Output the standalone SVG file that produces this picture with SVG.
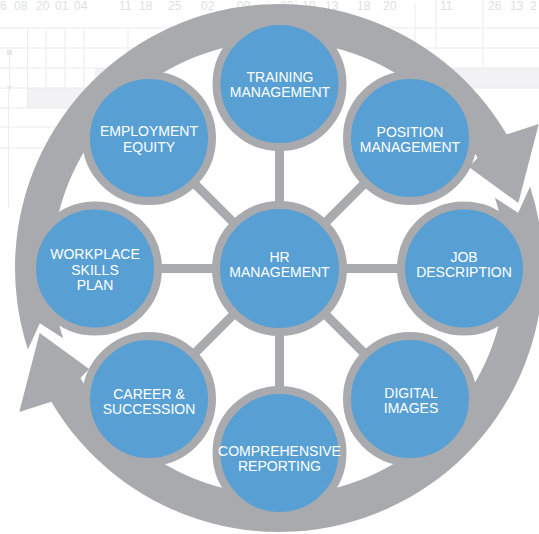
<svg xmlns="http://www.w3.org/2000/svg" width="539" height="534" viewBox="0 0 539 534">
<style>
.grid line{stroke:#ECECEE;stroke-width:1}
.band{fill:#F2F2F4}
.num{font-family:"Liberation Sans",Arial,sans-serif;font-size:12px;fill:#DEDFE1}
.arc{fill:#A9AAAD}
.spoke{stroke:#A9AAAD;stroke-width:9}
.node circle{fill:#589FD4;stroke:#A9AAAD;stroke-width:8}
.node text{font-family:"Liberation Sans",Arial,sans-serif;font-size:14px;fill:#FFFFFF;text-anchor:middle}
</style>
<defs>
<path id="seg" d="M251.08,-81.58 A264,264 0 0 1 -227.67,133.66 L-259.76,143.99 L-239.33,65.02 L-189.83,100.94 L-198.54,110.05 A227,227 0 0 0 215.89,-70.15 L239.21,-55.23 Z"/>
</defs>
<rect width="539" height="534" fill="#FFFFFF"/>
<g id="background" class="grid">
<rect class="band" x="95" y="68" width="444" height="20"/>
<rect class="band" x="28" y="88" width="120" height="20"/>
<line x1="0" y1="28" x2="539" y2="28"/>
<line x1="0" y1="48" x2="539" y2="48"/>
<line x1="0" y1="68" x2="539" y2="68"/>
<line x1="0" y1="88" x2="539" y2="88"/>
<line x1="0" y1="108" x2="120" y2="108"/>
<line x1="0" y1="127" x2="70" y2="127"/>
<line x1="0" y1="148" x2="70" y2="148"/>
<line x1="27.5" y1="28" x2="27.5" y2="108"/>
<line x1="46" y1="28" x2="46" y2="88"/>
<line x1="65" y1="28" x2="65" y2="88"/>
<line x1="84" y1="28" x2="84" y2="88"/>
<line x1="128" y1="28" x2="128" y2="68"/>
<line x1="268" y1="0" x2="268" y2="20"/>
<line x1="296" y1="0" x2="296" y2="20"/>
<line x1="415" y1="3" x2="415" y2="68"/>
<line x1="436" y1="0" x2="436" y2="50"/>
<line x1="483" y1="0" x2="483" y2="68"/>
<line x1="9.5" y1="55" x2="9.5" y2="86"/>
<line x1="8.5" y1="90" x2="8.5" y2="207"/>
<rect x="7" y="50" width="5" height="5" fill="#E6E7E9"/>
<path d="M6,86 L13,86 L9.5,90 Z" fill="#E6E7E9"/>
<text class="num" x="0" y="10">6</text>
<text class="num" x="14" y="10">08</text>
<text class="num" x="36" y="10">20</text>
<text class="num" x="55" y="10">01</text>
<text class="num" x="74" y="10">04</text>
<text class="num" x="119" y="10">11</text>
<text class="num" x="139" y="10">18</text>
<text class="num" x="168" y="10">25</text>
<text class="num" x="201" y="10">02</text>
<text class="num" x="237" y="10">09</text>
<text class="num" x="280" y="10">20</text>
<text class="num" x="302" y="10">10</text>
<text class="num" x="325" y="10">13</text>
<text class="num" x="357" y="10">18</text>
<text class="num" x="383" y="10">20</text>
<text class="num" x="440" y="10">11</text>
<text class="num" x="488" y="10">26</text>
<text class="num" x="510" y="10">13</text>
<text class="num" x="530" y="10">2</text>
</g>
<circle cx="279" cy="268" r="262" fill="#FFFFFF"/>
<g id="cycle-arrows" class="arc" transform="translate(279,268)">
<use href="#seg"/>
<use href="#seg" transform="rotate(180)"/>
</g>
<g id="connectors" class="spoke">
<line x1="279.5" y1="268.5" x2="279.5" y2="84"/>
<line x1="279.5" y1="268.5" x2="410" y2="138"/>
<line x1="279.5" y1="268.5" x2="464" y2="268.5"/>
<line x1="279.5" y1="268.5" x2="410" y2="399"/>
<line x1="279.5" y1="268.5" x2="279.5" y2="453"/>
<line x1="279.5" y1="268.5" x2="149" y2="399"/>
<line x1="279.5" y1="268.5" x2="95" y2="268.5"/>
<line x1="279.5" y1="268.5" x2="149" y2="138"/>
</g>
<g id="hr-management" class="node">
<circle cx="279.5" cy="268.5" r="63.5"/>
<text x="279.5" y="262">HR</text>
<text x="279.5" y="277">MANAGEMENT</text>
</g>
<g id="training-management" class="node">
<circle cx="279.5" cy="84" r="63"/>
<text x="280" y="82">TRAINING</text>
<text x="280" y="97">MANAGEMENT</text>
</g>
<g id="position-management" class="node">
<circle cx="410" cy="138" r="63"/>
<text x="410" y="137">POSITION</text>
<text x="410" y="152">MANAGEMENT</text>
</g>
<g id="job-description" class="node">
<circle cx="464" cy="268.5" r="63"/>
<text x="464" y="262">JOB</text>
<text x="464" y="277">DESCRIPTION</text>
</g>
<g id="digital-images" class="node">
<circle cx="410" cy="399" r="63"/>
<text x="411" y="398">DIGITAL</text>
<text x="411" y="413">IMAGES</text>
</g>
<g id="comprehensive-reporting" class="node">
<circle cx="279.5" cy="453" r="63"/>
<text x="279.5" y="456">COMPREHENSIVE</text>
<text x="279.5" y="471">REPORTING</text>
</g>
<g id="career-succession" class="node">
<circle cx="149" cy="399" r="63"/>
<text x="149" y="399">CAREER &amp;</text>
<text x="149" y="414">SUCCESSION</text>
</g>
<g id="workplace-skills-plan" class="node">
<circle cx="95" cy="268.5" r="63"/>
<text x="95" y="259">WORKPLACE</text>
<text x="95" y="274.5">SKILLS</text>
<text x="95" y="290">PLAN</text>
</g>
<g id="employment-equity" class="node">
<circle cx="149" cy="138" r="63"/>
<text x="149" y="136">EMPLOYMENT</text>
<text x="149" y="152">EQUITY</text>
</g>
</svg>
